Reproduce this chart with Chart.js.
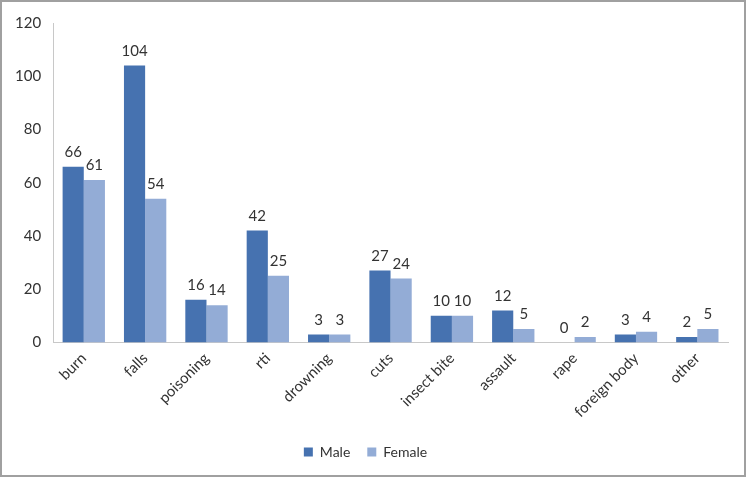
<!DOCTYPE html>
<html><head><meta charset="utf-8">
<script src="https://cdn.jsdelivr.net/npm/chart.js@4/dist/chart.umd.min.js"></script>
<style>
html,body{margin:0;padding:0;background:#fff;}
#wrap{width:746px;height:477px;box-sizing:border-box;border:2px solid #a0a0a0;position:relative;}
canvas{display:block;}
</style></head><body>
<div id="wrap"><canvas id="c"></canvas></div>
<script>
const categories = ["burn","falls","poisoning","rti","drowning","cuts","insect bite","assault","rape","foreign body","other"];
const maleValues = [66,104,16,42,3,27,10,12,0,3,2];
const femaleValues = [61,54,14,25,3,24,10,5,2,4,5];
const yTicks = [0,20,40,60,80,100,120];
const FONT = 'Lato, "Open Sans", sans-serif';

const valueLabels = {
  id:'valueLabels',
  afterDatasetsDraw(chart){
    const ctx = chart.ctx;
    ctx.save();
    ctx.font = '15px ' + FONT;
    ctx.fillStyle = '#333';
    ctx.textAlign = 'center';
    ctx.textBaseline = 'bottom';
    chart.data.datasets.forEach((ds,i)=>{
      chart.getDatasetMeta(i).data.forEach((bar,j)=>{
        ctx.fillText(String(ds.data[j]), bar.x, bar.y - 7);
      });
    });
    ctx.restore();
  }
};

new Chart(document.getElementById('c'), {
  type:'bar',
  data:{
    labels: categories,
    datasets:[
      {label:'Male', data:maleValues, backgroundColor:'#4672b0', categoryPercentage:0.69, barPercentage:1},
      {label:'Female', data:femaleValues, backgroundColor:'#93acd6', categoryPercentage:0.69, barPercentage:1}
    ]
  },
  options:{
    responsive:true, maintainAspectRatio:false, animation:false,
    layout:{padding:{left:1,right:16,top:8,bottom:6}},
    plugins:{
      legend:{position:'bottom', labels:{boxWidth:9, boxHeight:9, color:'#333', font:{family:FONT, size:14}, padding:17}},
      tooltip:{enabled:false}
    },
    scales:{
      x:{
        grid:{display:false, drawTicks:false},
        border:{color:'#c8c8c8'},
        ticks:{color:'#333', maxRotation:45, minRotation:45, padding:7, font:{family:FONT, size:15}}
      },
      y:{
        min:0, max:120,
        afterBuildTicks(scale){ scale.ticks = yTicks.map(v=>({value:v})); },
        grid:{display:false, drawTicks:false},
        border:{color:'#c8c8c8'},
        ticks:{color:'#333', padding:12, font:{family:FONT, size:15}}
      }
    }
  },
  plugins:[valueLabels]
});
</script>
</body></html>
